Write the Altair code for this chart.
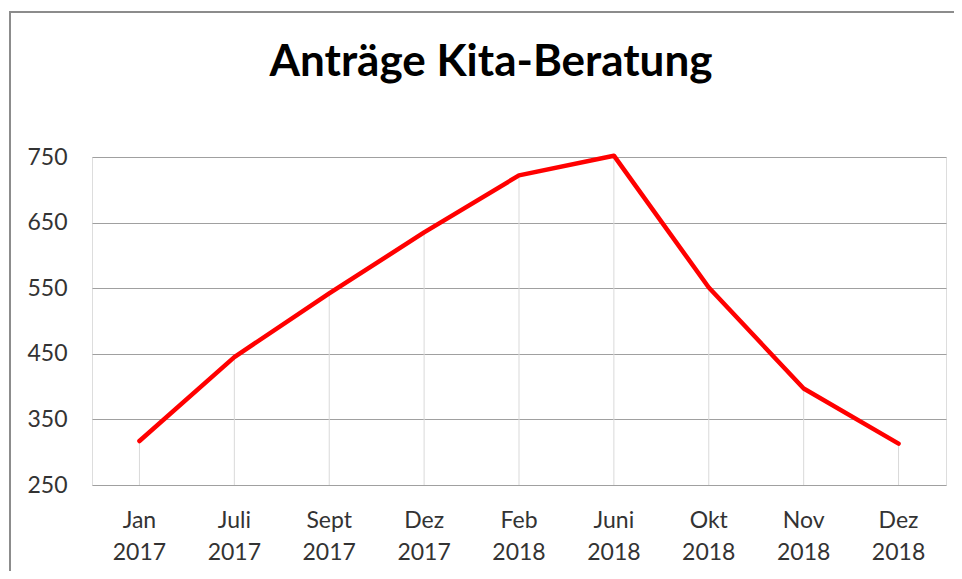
import altair as alt
import pandas as pd

months = ["Jan 2017", "Juli 2017", "Sept 2017", "Dez 2017", "Feb 2018",
          "Juni 2018", "Okt 2018", "Nov 2018", "Dez 2018"]
values = [317, 445, 542, 635, 722, 752, 551, 397, 313]
y_ticks = [250, 350, 450, 550, 650, 750]

df = pd.DataFrame({"month": months, "value": values})

W, H = 854, 328
FONT = "Lato"

x = alt.X("month:N", sort=months, title=None,
          scale=alt.Scale(paddingInner=0, paddingOuter=0),
          axis=alt.Axis(labelAngle=0, domain=False, ticks=False, grid=False,
                        labelExpr="split(datum.label, ' ')",
                        labelFont=FONT, labelFontSize=23, labelColor="#333333",
                        labelLineHeight=32, labelPadding=24))
y = alt.Y("value:Q", title=None,
          scale=alt.Scale(domain=[250, 750], nice=False, zero=False),
          axis=alt.Axis(values=y_ticks, domain=False, ticks=False, grid=True,
                        gridColor="#a0a0a0", gridWidth=1.2,
                        labelFont=FONT, labelFontSize=23, labelColor="#333333",
                        labelPadding=25))

base = alt.Chart(df)

border = base.mark_rect(fill=None, stroke="#8c8c8c", strokeWidth=2, clip=False).encode(
    x=alt.value(-82), x2=alt.value(W + 40),
    y=alt.value(-145), y2=alt.value(H + 120)
).transform_filter("datum.month == 'Jan 2017'")

drops = base.mark_rule(color="#d9d9d9", strokeWidth=1).encode(
    x=x, y=alt.Y("value:Q"), y2=alt.datum(250)
)

line = base.mark_line(color="#ff0000", strokeWidth=4.5, strokeCap="round",
                      strokeJoin="round").encode(x=x, y=y)

chart = alt.layer(drops, line, border).properties(
    width=W, height=H,
    title=alt.Title("Anträge Kita-Beratung", font=FONT, fontSize=44,
                    fontWeight="bold", color="#000000", anchor="middle",
                    frame="group", baseline="alphabetic",
                    dx=-28, offset=0, dy=109),
    autosize=alt.AutoSizeParams(type="none"),
    padding={"left": 84, "top": 149, "right": 8, "bottom": 86},
).configure_view(stroke=None).configure(background="white")

chart.save("out.html", embed_options={"renderer": "svg", "actions": False})
